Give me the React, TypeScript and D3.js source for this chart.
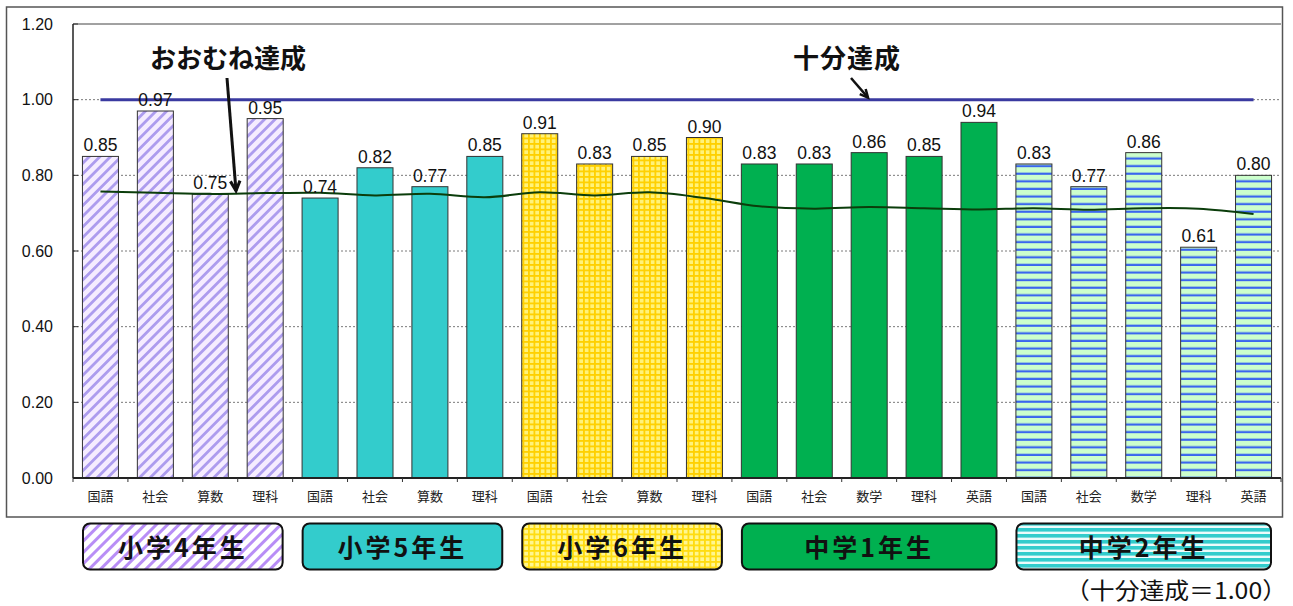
import React from "react";
import * as d3 from "d3";

// Subjects along the x axis, grouped by grade
const subjects = [
  "国語", "社会", "算数", "理科",
  "国語", "社会", "算数", "理科",
  "国語", "社会", "算数", "理科",
  "国語", "社会", "数学", "理科", "英語",
  "国語", "社会", "数学", "理科", "英語",
];
const grades = ["小学4年生", "小学5年生", "小学6年生", "中学1年生", "中学2年生"];
const gradeIndex = [0, 0, 0, 0, 1, 1, 1, 1, 2, 2, 2, 2, 3, 3, 3, 3, 3, 4, 4, 4, 4, 4];

// Achievement ratio per subject
const scores = [
  0.85, 0.97, 0.75, 0.95,
  0.74, 0.82, 0.77, 0.85,
  0.91, 0.83, 0.85, 0.90,
  0.83, 0.83, 0.86, 0.85, 0.94,
  0.83, 0.77, 0.86, 0.61, 0.80,
];

// "おおむね達成" threshold per subject
const approxLine = [
  0.757, 0.754, 0.751, 0.753,
  0.754, 0.747, 0.751, 0.742,
  0.755, 0.747, 0.755, 0.740,
  0.718, 0.712, 0.716, 0.713, 0.710,
  0.713, 0.709, 0.713, 0.712, 0.698,
];

const fullTarget = 1.0;
const yTicks = [0, 0.2, 0.4, 0.6, 0.8, 1.0, 1.2];
const yTickLabels = ["0.00", "0.20", "0.40", "0.60", "0.80", "1.00", "1.20"];

const W = 1293;
const H = 606;
const plot = { left: 73, right: 1281, top: 24, bottom: 478 };

const barFill = ["url(#p4bar)", "#33cccc", "url(#p6bar)", "#00b050", "url(#p2bar)"];
const legendFill = ["url(#p4leg)", "#33cccc", "url(#p6leg)", "#00b050", "url(#p2leg)"];

const JP = "'Noto Sans CJK JP', 'Noto Sans', sans-serif";
const NUM = "'Liberation Sans', Arial, sans-serif";

export default function App() {
  const x = d3
    .scaleBand<number>()
    .domain(d3.range(subjects.length))
    .range([plot.left, plot.right])
    .paddingInner(0.344)
    .paddingOuter(0.172);
  const y = d3.scaleLinear().domain([0, 1.2]).range([plot.bottom, plot.top]);
  const step = x.step();
  const cx = (i: number) => (x(i) as number) + x.bandwidth() / 2;

  const linePath = d3
    .line<number>()
    .x((_, i) => cx(i))
    .y((v) => y(v))
    .curve(d3.curveCatmullRom.alpha(0.5))(approxLine) as string;

  // group extents for the grade boxes
  const groups = grades.map((g, gi) => {
    const idx = gradeIndex.map((v, i) => (v === gi ? i : -1)).filter((i) => i >= 0);
    const x0 = (x(idx[0]) as number) - step * 0.172;
    const x1 = (x(idx[idx.length - 1]) as number) + x.bandwidth() + step * 0.172;
    return { g, gi, x0, x1 };
  });

  const arrowHead = (x1: number, y1: number, x2: number, y2: number, size = 10) => {
    const a = Math.atan2(y2 - y1, x2 - x1);
    const l = (da: number) => [x2 - size * Math.cos(a + da), y2 - size * Math.sin(a + da)];
    const p1 = l(0.45);
    const p2 = l(-0.45);
    return `M${p1[0]},${p1[1]} L${x2},${y2} L${p2[0]},${p2[1]}`;
  };

  const approxTipX = 236;
  const approxTipY = y(approxLine[2]) - 3;
  const fullTipX = 868;
  const fullTipY = y(fullTarget) - 2;

  return (
    <svg
      width={W}
      height={H}
      style={{ position: "absolute", left: 0, top: 0, display: "block", background: "#fff" }}
    >
      <defs>
        <pattern id="p4bar" patternUnits="userSpaceOnUse" width={7.5} height={7.5} patternTransform="rotate(45)">
          <rect width={7.5} height={7.5} fill="#f5ecff" />
          <rect width={2.8} height={7.5} fill="#ad9cee" />
        </pattern>
        <pattern id="p4leg" patternUnits="userSpaceOnUse" width={8} height={8} patternTransform="rotate(45)">
          <rect width={8} height={8} fill="#ffffff" />
          <rect width={3} height={8} fill="#b88ef6" />
        </pattern>
        <pattern id="p6bar" patternUnits="userSpaceOnUse" width={5.5} height={5.5}>
          <rect width={5.5} height={5.5} fill="#fff27a" />
          <rect width={5.5} height={1.8} fill="#ffd000" />
          <rect width={1.8} height={5.5} fill="#ffd000" />
        </pattern>
        <pattern id="p6leg" patternUnits="userSpaceOnUse" width={5.5} height={5.5}>
          <rect width={5.5} height={5.5} fill="#fff690" />
          <rect width={5.5} height={1.8} fill="#ffdc10" />
          <rect width={1.8} height={5.5} fill="#ffdc10" />
        </pattern>
        <pattern id="p2bar" patternUnits="userSpaceOnUse" width={8} height={7.6}>
          <rect width={8} height={7.6} fill="#ccffcc" />
          <rect y={5.4} width={8} height={2.2} fill="#3a66ee" />
        </pattern>
        <pattern id="p2leg" patternUnits="userSpaceOnUse" width={8} height={6}>
          <rect width={8} height={6} fill="#ecfbfb" />
          <rect width={8} height={3.6} fill="#33cccc" />
        </pattern>
      </defs>

      {/* outer frame */}
      <rect x={6.5} y={7} width={1276} height={510} fill="none" stroke="#555" strokeWidth={1.5} />

      {/* gridlines */}
      {yTicks.slice(1, -1).map((t) => (
        <line
          key={t}
          x1={plot.left}
          x2={plot.right}
          y1={y(t)}
          y2={y(t)}
          stroke="#7a7a7a"
          strokeWidth={1}
          strokeDasharray="2,2"
        />
      ))}
      <line x1={plot.left} x2={plot.right} y1={y(1.2)} y2={y(1.2)} stroke="#444" strokeWidth={1} />

      {/* y axis labels and ticks */}
      {yTicks.map((t, i) => (
        <g key={t}>
          <line x1={plot.left} x2={plot.left + 5} y1={y(t)} y2={y(t)} stroke="#333" strokeWidth={1} />
          <text
            x={53}
            y={y(t)}
            dy="0.36em"
            textAnchor="end"
            fontFamily={NUM}
            fontSize={16}
            fill="#111"
          >
            {yTickLabels[i]}
          </text>
        </g>
      ))}

      {/* bars */}
      {scores.map((v, i) => (
        <rect
          key={i}
          x={x(i)}
          y={y(v)}
          width={x.bandwidth()}
          height={plot.bottom - y(v)}
          fill={barFill[gradeIndex[i]]}
          stroke="#333"
          strokeWidth={1}
        />
      ))}

      {/* 十分達成 reference line */}
      <line
        x1={cx(0)}
        x2={cx(subjects.length - 1)}
        y1={y(fullTarget)}
        y2={y(fullTarget)}
        stroke="#3a3aa0"
        strokeWidth={3}
      />

      {/* おおむね達成 line */}
      <path d={linePath} fill="none" stroke="#0b3d0b" strokeWidth={2} />

      {/* value labels */}
      {scores.map((v, i) => (
        <text
          key={i}
          x={cx(i)}
          y={y(v) - 5}
          textAnchor="middle"
          fontFamily={NUM}
          fontSize={17.5}
          fill="#111"
        >
          {v.toFixed(2)}
        </text>
      ))}

      {/* axes */}
      <line x1={plot.left} x2={plot.left} y1={plot.top} y2={plot.bottom} stroke="#222" strokeWidth={1.5} />
      <line x1={plot.left} x2={plot.right} y1={plot.bottom} y2={plot.bottom} stroke="#222" strokeWidth={2} />
      {d3.range(subjects.length + 1).map((i) => (
        <line
          key={i}
          x1={plot.left + i * step}
          x2={plot.left + i * step}
          y1={plot.bottom}
          y2={plot.bottom + 4}
          stroke="#333"
          strokeWidth={1}
        />
      ))}

      {/* subject labels */}
      {subjects.map((s, i) => (
        <text key={i} x={cx(i)} y={501} textAnchor="middle" fontFamily={JP} fontSize={13} fill="#222">
          {s}
        </text>
      ))}

      {/* annotations */}
      <text x={228} y={68} textAnchor="middle" fontFamily={JP} fontWeight={700} fontSize={26} fill="#111">
        おおむね達成
      </text>
      <line x1={227} y1={78} x2={approxTipX} y2={approxTipY} stroke="#111" strokeWidth={3} />
      <path d={arrowHead(227, 78, approxTipX, approxTipY, 11)} fill="none" stroke="#111" strokeWidth={3} />

      <text x={847} y={68} textAnchor="middle" fontFamily={JP} fontWeight={700} fontSize={26} letterSpacing={1} fill="#111">
        十分達成
      </text>
      <line x1={851} y1={78} x2={fullTipX} y2={fullTipY} stroke="#111" strokeWidth={2.5} />
      <path d={arrowHead(851, 78, fullTipX, fullTipY, 9)} fill="none" stroke="#111" strokeWidth={2.5} />

      {/* grade boxes */}
      {groups.map(({ g, gi, x0, x1 }) => (
        <g key={g}>
          <rect
            x={x0 + 10}
            y={523.5}
            width={x1 - x0 - 20}
            height={46}
            rx={7}
            ry={7}
            fill={legendFill[gi]}
            stroke="#111"
            strokeWidth={2}
          />
          <text
            x={(x0 + x1) / 2}
            y={557}
            textAnchor="middle"
            fontFamily={JP}
            fontWeight={700}
            fontSize={25}
            letterSpacing={3}
            fill="#111"
          >
            {g}
          </text>
        </g>
      ))}

      <text
        x={1287}
        y={599}
        textAnchor="end"
        fontFamily={JP}
        fontSize={23}
        fill="#111"
        textLength={222}
        lengthAdjust="spacingAndGlyphs"
      >
        （十分達成＝1.00）
      </text>
    </svg>
  );
}
